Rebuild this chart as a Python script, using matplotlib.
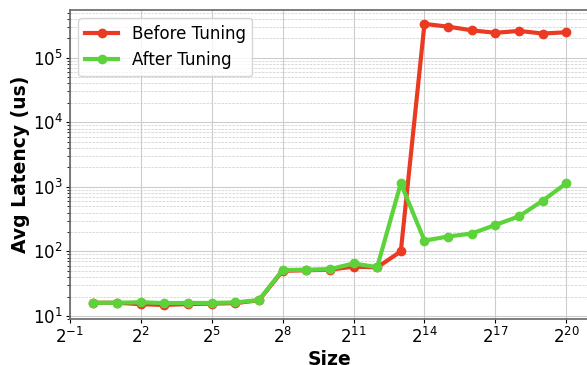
import numpy as np
import matplotlib
matplotlib.use('Agg')
import matplotlib.pyplot as plt

# sizes 2^0 .. 2^20
sizes = [2 ** i for i in range(21)]

before_tuning = [16.0, 16.0, 15.2, 14.8, 15.3, 15.5, 15.8, 17.5, 50, 51, 52, 58,
                 56.5, 100, 3.34e5, 3.03e5, 2.66e5, 2.43e5, 2.6e5, 2.37e5, 2.48e5]
after_tuning = [16.0, 16.0, 16.3, 15.8, 15.9, 15.9, 16.2, 17.6, 51.5, 52, 53, 65,
                57, 1135, 147, 170, 189, 257, 349, 610, 1135]

fig = plt.figure(figsize=(5.87, 3.65), dpi=100)
ax = fig.add_axes([0.119, 0.126, 0.886, 0.847])

ax.plot(sizes, before_tuning, color='#ea3b22', marker='o', linewidth=3,
        markersize=6, label='Before Tuning')
ax.plot(sizes, after_tuning, color='#5cd33a', marker='o', linewidth=3,
        markersize=6, label='After Tuning')

ax.set_xscale('log', base=2)
ax.set_yscale('log')

ax.grid(True, which='major', color='#cccccc', linestyle='-', linewidth=0.8)
ax.grid(True, which='minor', color='#cccccc', linestyle='--', linewidth=0.5)
ax.set_axisbelow(True)

ax.set_xlabel('Size', fontsize=13.5, fontweight='bold', labelpad=2)
ax.set_ylabel('Avg Latency (us)', fontsize=13.5, fontweight='bold', labelpad=2)
ax.tick_params(axis='both', which='major', labelsize=12, length=3, pad=2)
ax.tick_params(axis='both', which='minor', length=2)
ax.tick_params(axis='x', which='major', pad=3)

for side in ['top', 'left', 'bottom', 'right']:
    ax.spines[side].set_color('#666666')
    ax.spines[side].set_linewidth(1.2)

ax.legend(fontsize=12, loc='upper left')

fig.savefig('out.png', dpi=100)
